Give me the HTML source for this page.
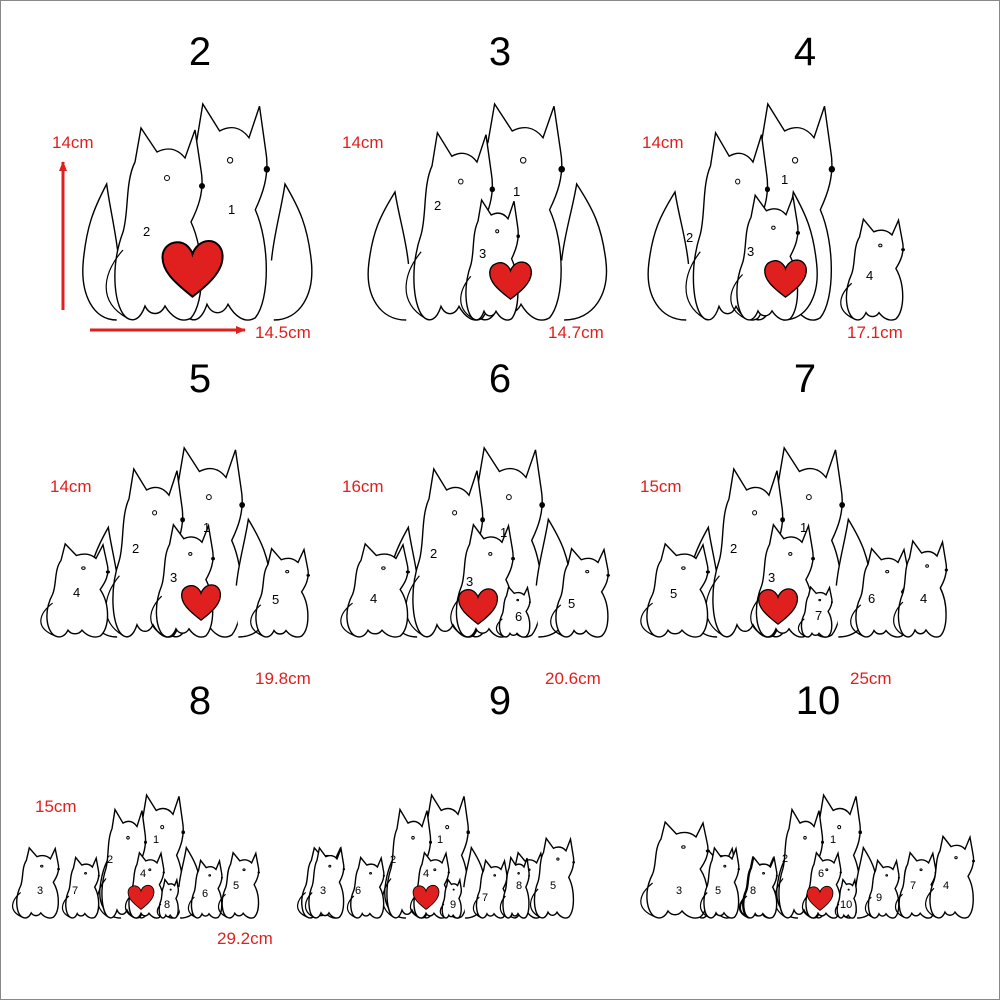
<!DOCTYPE html>
<html><head><meta charset="utf-8"><style>
html,body{margin:0;padding:0;background:#fff}
svg{display:block}
text{font-family:"Liberation Sans",sans-serif}
</style></head><body>
<svg width="1000" height="1000" viewBox="0 0 1000 1000" xmlns="http://www.w3.org/2000/svg">
<defs>
<symbol id="fox" viewBox="0 0 100 200" overflow="visible" preserveAspectRatio="none">
<path d="M22,198 C10,190 4,150 18,112 C24,92 20,62 30,42 L36,8 L52,32 C62,27 72,28 80,38 L90,10 L96,50 C100,72 92,90 86,102 C100,132 100,182 86,198 C76,204 66,196 60,186 C55,196 45,196 40,186 C35,200 28,202 22,198 Z" fill="#fff" stroke="#000" stroke-width="1.4" vector-effect="non-scaling-stroke"/>
<path d="M18,130 C0,150 -10,180 22,198" fill="none" stroke="#000" stroke-width="1.2" vector-effect="non-scaling-stroke"/>
<circle cx="62" cy="58" r="2.5" fill="none" stroke="#000" vector-effect="non-scaling-stroke"/>
<circle cx="97" cy="66" r="3" fill="#000"/>
</symbol>
<symbol id="tailL" viewBox="0 0 60 200" overflow="visible" preserveAspectRatio="none">
<path d="M55,200 C20,200 0,170 5,130 C10,90 20,70 40,40 C45,70 55,100 58,130" fill="#fff" stroke="#000" stroke-width="1.4" vector-effect="non-scaling-stroke"/>
</symbol>
<symbol id="heart" viewBox="0 0 100 90" preserveAspectRatio="none">
<path d="M50,88 C20,65 2,48 4,26 C6,8 28,0 42,12 C46,16 49,20 50,24 C52,18 58,8 70,5 C88,2 98,16 96,32 C94,52 74,70 50,88 Z" fill="#e0201e" stroke="#000" stroke-width="3"/>
</symbol>
<marker id="ah" markerWidth="10" markerHeight="8" refX="9" refY="4" orient="auto" markerUnits="userSpaceOnUse"><path d="M0,0 L10,4 L0,8 Z" fill="#e0201e"/></marker>
</defs>
<rect x="0.5" y="0.5" width="999" height="999" fill="#fff" stroke="#888"/>

<g font-size="40" text-anchor="middle" fill="#000">
<text x="200" y="65">2</text><text x="500" y="65">3</text><text x="805" y="65">4</text>
<text x="200" y="392">5</text><text x="500" y="392">6</text><text x="805" y="392">7</text>
<text x="200" y="714">8</text><text x="500" y="714">9</text><text x="818" y="714">10</text>
</g>
<g font-size="17" fill="#e0201e" font-family="Liberation Sans">
<text x="52" y="148">14cm</text><text x="255" y="338">14.5cm</text>
<text x="342" y="148">14cm</text><text x="548" y="338">14.7cm</text>
<text x="642" y="148">14cm</text><text x="847" y="338">17.1cm</text>
<text x="50" y="492">14cm</text><text x="255" y="684">19.8cm</text>
<text x="342" y="492">16cm</text><text x="545" y="684">20.6cm</text>
<text x="640" y="492">15cm</text><text x="850" y="684">25cm</text>
<text x="35" y="812">15cm</text><text x="217" y="944">29.2cm</text>
</g>
<line x1="63" y1="310" x2="63" y2="162" stroke="#e0201e" stroke-width="3" marker-end="url(#ah)"/>
<line x1="90" y1="330" x2="245" y2="330" stroke="#e0201e" stroke-width="3" marker-end="url(#ah)"/>

<!-- Panel 2 -->
<use href="#tailL" x="80" y="150" width="40" height="170"/>
<use href="#tailL" x="270" y="150" width="45" height="170" transform="translate(585,0) scale(-1,1)"/>
<use href="#fox" x="165" y="95" width="105" height="225"/>
<use href="#fox" x="105" y="120" width="100" height="200"/>
<use href="#heart" x="160" y="238" width="65" height="60"/>
<g font-size="13"><text x="143" y="236">2</text><text x="228" y="214">1</text></g>

<!-- Panel 3 -->
<use href="#tailL" x="365" y="160" width="45" height="160"/>
<use href="#fox" x="455" y="95" width="110" height="225"/>
<use href="#fox" x="405" y="125" width="90" height="195"/>
<use href="#tailL" x="560" y="150" width="50" height="170" transform="translate(1170,0) scale(-1,1)"/>
<use href="#fox" x="460" y="195" width="60" height="125"/>
<use href="#heart" x="488" y="260" width="45" height="40"/>
<g font-size="13"><text x="434" y="210">2</text><text x="513" y="196">1</text><text x="479" y="258">3</text></g>

<!-- Panel 4 -->
<use href="#tailL" x="645" y="160" width="45" height="160"/>
<use href="#fox" x="730" y="95" width="105" height="225"/>
<use href="#fox" x="685" y="125" width="85" height="195"/>
<use href="#tailL" x="820" y="160" width="40" height="160" transform="translate(1640,0) scale(-1,1)"/>
<use href="#fox" x="730" y="190" width="70" height="130"/>
<use href="#fox" x="840" y="215" width="65" height="105"/>
<use href="#heart" x="763" y="258" width="45" height="40"/>
<g font-size="13"><text x="686" y="242">2</text><text x="781" y="184">1</text><text x="747" y="256">3</text><text x="866" y="280">4</text></g>

<!-- Row 2 -->
<g id="r2">
<use href="#tailL" x="85" y="500" width="35" height="137"/>
<use href="#fox" x="150" y="440" width="95" height="197"/>
<use href="#fox" x="105" y="462" width="80" height="175"/>
<use href="#tailL" x="235" y="490" width="40" height="147" transform="translate(510,0) scale(-1,1)"/>
<use href="#fox" x="40" y="540" width="70" height="97"/>
<use href="#fox" x="150" y="520" width="65" height="117"/>
<use href="#fox" x="250" y="545" width="60" height="92"/>
</g>
<use href="#heart" x="180" y="583" width="42" height="38"/>
<g font-size="13"><text x="132" y="553">2</text><text x="203" y="532">1</text><text x="170" y="582">3</text><text x="73" y="597">4</text><text x="272" y="604">5</text></g>

<use href="#r2" transform="translate(300,0)"/>
<use href="#fox" x="496" y="585" width="35" height="52"/>
<use href="#heart" x="457" y="587" width="42" height="38"/>
<g font-size="13"><text x="430" y="558">2</text><text x="500" y="537">1</text><text x="466" y="586">3</text><text x="370" y="603">4</text><text x="568" y="608">5</text><text x="515" y="621">6</text></g>

<use href="#r2" transform="translate(600,0)"/>
<use href="#fox" x="893" y="537" width="55" height="100"/>
<use href="#fox" x="798" y="585" width="35" height="52"/>
<use href="#heart" x="757" y="587" width="42" height="38"/>
<g font-size="13"><text x="730" y="553">2</text><text x="800" y="532">1</text><text x="768" y="582">3</text><text x="670" y="598">5</text><text x="868" y="603">6</text><text x="920" y="603">4</text><text x="815" y="620">7</text></g>

<!-- Row 3 -->
<g id="r3">
<use href="#tailL" x="98" y="830" width="25" height="88"/>
<use href="#fox" x="125" y="790" width="60" height="128"/>
<use href="#fox" x="97" y="805" width="50" height="113"/>
<use href="#tailL" x="178" y="830" width="25" height="88" transform="translate(381,0) scale(-1,1)"/>
<use href="#fox" x="12" y="845" width="48" height="73"/>
<use href="#fox" x="62" y="855" width="38" height="63"/>
<use href="#fox" x="125" y="850" width="40" height="68"/>
<use href="#fox" x="188" y="858" width="35" height="60"/>
<use href="#fox" x="218" y="850" width="42" height="68"/>
</g>
<use href="#fox" x="157" y="878" width="22" height="40"/>
<use href="#heart" x="127" y="884" width="28" height="26"/>
<g font-size="11"><text x="107" y="863">2</text><text x="153" y="843">1</text><text x="140" y="877">4</text><text x="37" y="894">3</text><text x="72" y="894">7</text><text x="202" y="897">6</text><text x="233" y="889">5</text><text x="164" y="908">8</text></g>

<use href="#r3" transform="translate(285,0)"/>
<use href="#fox" x="305" y="845" width="40" height="73"/>
<use href="#fox" x="500" y="855" width="30" height="63"/>
<use href="#fox" x="530" y="835" width="45" height="83"/>
<use href="#fox" x="440" y="878" width="22" height="40"/>
<use href="#heart" x="412" y="884" width="28" height="26"/>
<g font-size="11"><text x="390" y="863">2</text><text x="437" y="843">1</text><text x="423" y="877">4</text><text x="320" y="894">3</text><text x="355" y="894">6</text><text x="482" y="901">7</text><text x="516" y="889">8</text><text x="550" y="889">5</text><text x="450" y="908">9</text></g>

<use href="#r3" transform="translate(677,0)"/>
<use href="#fox" x="640" y="818" width="70" height="100"/>
<use href="#fox" x="700" y="845" width="40" height="73"/>
<use href="#fox" x="740" y="855" width="38" height="63"/>
<use href="#fox" x="925" y="833" width="50" height="85"/>
<use href="#fox" x="835" y="878" width="22" height="40"/>
<use href="#heart" x="806" y="885" width="28" height="26"/>
<g font-size="11"><text x="782" y="862">2</text><text x="830" y="843">1</text><text x="818" y="877">6</text><text x="676" y="894">3</text><text x="715" y="894">5</text><text x="750" y="894">8</text><text x="876" y="901">9</text><text x="910" y="889">7</text><text x="943" y="889">4</text><text x="840" y="908">10</text></g>
</svg>
</body></html>
